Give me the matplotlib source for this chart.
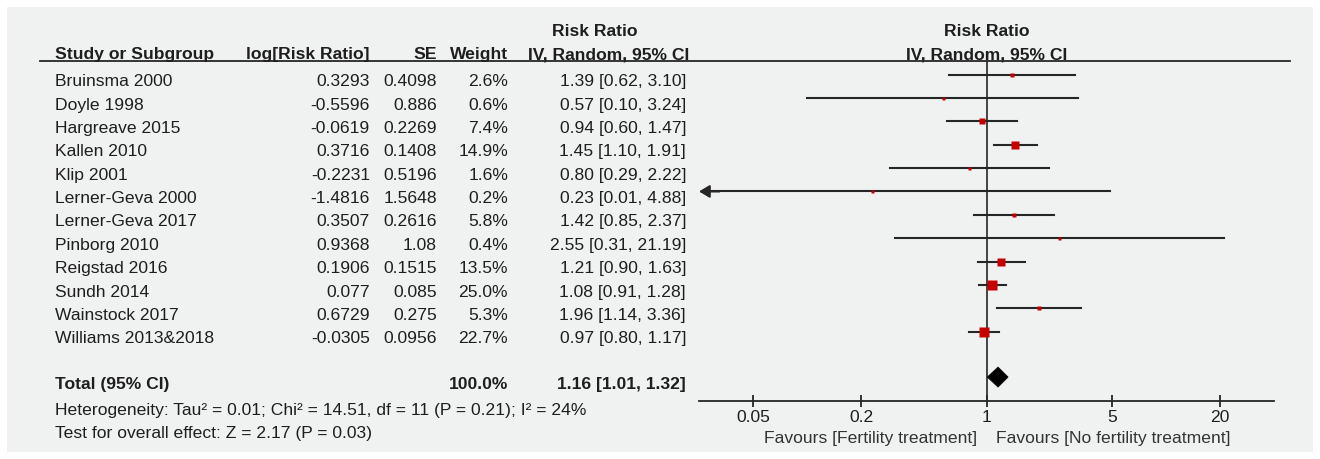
import matplotlib
matplotlib.use('Agg')
import numpy as np
import matplotlib.pyplot as plt
from matplotlib.patches import Rectangle, Polygon
from matplotlib.lines import Line2D
from matplotlib import transforms

plt.rcParams['font.family'] = ['Liberation Sans', 'DejaVu Sans']
plt.rcParams['font.size'] = 12.6

studies = ['Bruinsma 2000', 'Doyle 1998', 'Hargreave 2015', 'Kallen 2010', 'Klip 2001',
           'Lerner-Geva 2000', 'Lerner-Geva 2017', 'Pinborg 2010', 'Reigstad 2016',
           'Sundh 2014', 'Wainstock 2017', 'Williams 2013&2018']
log_rr = [0.3293, -0.5596, -0.0619, 0.3716, -0.2231, -1.4816, 0.3507, 0.9368, 0.1906,
          0.077, 0.6729, -0.0305]
se = [0.4098, 0.886, 0.2269, 0.1408, 0.5196, 1.5648, 0.2616, 1.08, 0.1515, 0.085, 0.275, 0.0956]
weight = [2.6, 0.6, 7.4, 14.9, 1.6, 0.2, 5.8, 0.4, 13.5, 25.0, 5.3, 22.7]
rr = [1.39, 0.57, 0.94, 1.45, 0.80, 0.23, 1.42, 2.55, 1.21, 1.08, 1.96, 0.97]
ci_lo = [0.62, 0.10, 0.60, 1.10, 0.29, 0.01, 0.85, 0.31, 0.90, 0.91, 1.14, 0.80]
ci_hi = [3.10, 3.24, 1.47, 1.91, 2.22, 4.88, 2.37, 21.19, 1.63, 1.28, 3.36, 1.17]

total_rr, total_lo, total_hi = 1.16, 1.01, 1.32
total_weight = 100.0
heterogeneity = 'Heterogeneity: Tau² = 0.01; Chi² = 14.51, df = 11 (P = 0.21); I² = 24%'
overall = 'Test for overall effect: Z = 2.17 (P = 0.03)'
tick_vals = [0.05, 0.2, 1, 5, 20]
tick_labels = ['0.05', '0.2', '1', '5', '20']
favours_left = 'Favours [Fertility treatment]'
favours_right = 'Favours [No fertility treatment]'

W, H = 1320, 459
txt = '#1e1e1e'
line_c = '#262626'
red = '#c40000'

fig = plt.figure(figsize=(W / 100, H / 100), dpi=100)
fig.patch.set_facecolor('white')
fig.patches.append(Rectangle((7 / W, 1 - 452 / H), 1306 / W, 445 / H,
                             transform=fig.transFigure, facecolor='#f0f1f1',
                             edgecolor='none', zorder=-10))

# forest axes: pixel box 699..1274 wide, 61..401 tall
ax = fig.add_axes([699 / W, 1 - 401 / H, 575 / W, 340 / H])
ax.patch.set_alpha(0)
ax.set_xscale('log')
ax.set_xlim(0.025, 40)
row_px, row0_px = 23.35, 74.7
ax.set_ylim((401 - row0_px) / row_px, (61 - row0_px) / row_px)
for s in ['top', 'left', 'right']:
    ax.spines[s].set_visible(False)
ax.spines['bottom'].set_color(line_c)
ax.spines['bottom'].set_linewidth(1.3)
ax.set_yticks([])
ax.set_xticks(tick_vals)
ax.set_xticklabels(tick_labels)
ax.xaxis.set_minor_locator(matplotlib.ticker.NullLocator())
ax.tick_params(axis='x', direction='inout', length=9, width=1.3, color=line_c,
               labelsize=12.6, labelcolor=txt, pad=2)

ax.axvline(1, color=line_c, lw=1.2, zorder=1)

rows = np.arange(len(studies))
xmin = ax.get_xlim()[0]
for i in rows:
    if ci_lo[i] < xmin:
        # CI runs off the left edge -> arrow
        ax.plot([xmin * 1.06, ci_hi[i]], [i, i], color=line_c, lw=1.5, zorder=2)
        ax.annotate('', xy=(xmin, i), xytext=(xmin * 1.3, i),
                    arrowprops=dict(arrowstyle='-|>,head_length=0.5,head_width=0.3',
                                    color=line_c, lw=1.5, shrinkA=0, shrinkB=0))
    else:
        ax.plot([ci_lo[i], ci_hi[i]], [i, i], color=line_c, lw=1.5, zorder=2)
    side = max(3.0, 2.0 * np.sqrt(weight[i]))
    ax.plot(rr[i], i, marker='s', ms=side * 0.72, color=red, mec='none', zorder=3)

total_row = 12.95
ax.add_patch(Polygon([(total_lo, total_row), (total_rr, total_row - 0.43),
                      (total_hi, total_row), (total_rr, total_row + 0.43)],
                     closed=True, facecolor='black', edgecolor='black', lw=0.5, zorder=3))

# table text: x in figure pixels, y in forest rows
tr = transforms.blended_transform_factory(fig.transFigure, ax.transData)
def fx(px):
    return px / W

col_name, col_log, col_se, col_w, col_ci = 55, 370, 437, 508, 686
base = 0.5
for i in rows:
    y = i + base
    ax.text(fx(col_name), y, studies[i], transform=tr, ha='left', va='baseline', color=txt)
    ax.text(fx(col_log), y, str(log_rr[i]), transform=tr, ha='right', va='baseline', color=txt)
    ax.text(fx(col_se), y, str(se[i]), transform=tr, ha='right', va='baseline', color=txt)
    ax.text(fx(col_w), y, '%.1f%%' % weight[i], transform=tr, ha='right', va='baseline', color=txt)
    ax.text(fx(col_ci), y, '%.2f [%.2f, %.2f]' % (rr[i], ci_lo[i], ci_hi[i]), transform=tr,
            ha='right', va='baseline', color=txt)

y = total_row + base
ax.text(fx(col_name), y, 'Total (95% CI)', transform=tr, ha='left', va='baseline',
        color=txt, fontweight='bold')
ax.text(fx(col_w), y, '%.1f%%' % total_weight, transform=tr, ha='right', va='baseline',
        color=txt, fontweight='bold')
ax.text(fx(col_ci), y, '%.2f [%.2f, %.2f]' % (total_rr, total_lo, total_hi), transform=tr,
        ha='right', va='baseline', color=txt, fontweight='bold')

fig.text(fx(col_name), 1 - 415 / H, heterogeneity, ha='left', va='baseline', color=txt)
fig.text(fx(col_name), 1 - 438 / H, overall, ha='left', va='baseline', color=txt)

# headers
hdr1 = 1 - 36 / H
hdr2 = 1 - 59 / H
bold = dict(color=txt, fontweight='bold', va='baseline')
fig.text(fx(col_name), hdr2, 'Study or Subgroup', ha='left', **bold)
fig.text(fx(col_log), hdr2, 'log[Risk Ratio]', ha='right', **bold)
fig.text(fx(col_se), hdr2, 'SE', ha='right', **bold)
fig.text(fx(col_w), hdr2, 'Weight', ha='right', **bold)
fig.text(fx(col_ci + 3), hdr2, 'IV, Random, 95% CI', ha='right', **bold)
fig.text(fx(595), hdr1, 'Risk Ratio', ha='center', **bold)

trx = transforms.blended_transform_factory(ax.transData, fig.transFigure)
ax.text(1, hdr1, 'Risk Ratio', transform=trx, ha='center', **bold)
ax.text(1, hdr2, 'IV, Random, 95% CI', transform=trx, ha='center', **bold)

fig.add_artist(Line2D([40 / W, 1290 / W], [1 - 61 / H, 1 - 61 / H], color=line_c, lw=1.3))

fav_y = 1 - 443 / H
left_tr = transforms.offset_copy(trx, fig=fig, x=-7, units='points')
right_tr = transforms.offset_copy(trx, fig=fig, x=7, units='points')
ax.text(1, fav_y, favours_left, transform=left_tr, ha='right', va='baseline', color='#333333')
ax.text(1, fav_y, favours_right, transform=right_tr, ha='left', va='baseline', color='#333333')

fig.savefig('out.png', dpi=100, facecolor='white')
